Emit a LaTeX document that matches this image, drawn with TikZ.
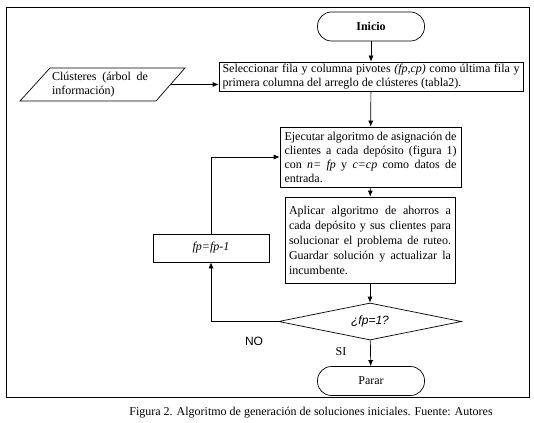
\documentclass[tikz,border=0pt]{standalone}
\usepackage{fontspec}
\setmainfont{Liberation Serif}
\newfontfamily\arialfont{Liberation Sans}
\usetikzlibrary{arrows.meta,shapes.geometric}
\setlength{\parindent}{0pt}

\tikzset{
  >={Latex[length=6pt,width=5pt]},
  flowline/.style={line width=0.7pt},
  terminal/.style={draw, line width=0.7pt, rounded corners=14pt, minimum width=107pt, minimum height=29pt, inner sep=0pt},
  process/.style={draw, line width=0.7pt, align=justify, inner xsep=4pt, inner ysep=1pt, font=\fontsize{12}{14}\selectfont},
  decision/.style={draw, diamond, aspect=5, inner sep=0pt, line width=0.7pt, minimum width=183pt, minimum height=37pt, font=\arialfont\itshape\fontsize{12}{14}\selectfont}
}

\begin{document}
\begin{tikzpicture}[x=1pt,y=-1pt]
        \useasboundingbox (0,0) rectangle (534,422);
        \draw [flowline]  (6,7) rectangle (529,397);

        \node [terminal, font=\fontsize{12}{14}\selectfont\bfseries] (inicio) at (371,26.5) {Inicio};
        \node [process, text width=297pt, inner xsep=3.5pt, minimum height=29pt] (sel) at (371,76.5)
              {Seleccionar fila y columna pivotes \textit{(fp,cp)} como última fila y\linebreak primera columna del arreglo de clústeres (tabla2).};

        \draw [flowline]  (20,101) -- (50,68) -- (185,68) -- (156,101) -- cycle;
        \node [process, draw=none, text width=96pt, inner sep=0pt] (clus) at (100,84.5)
              {Clústeres (árbol de\linebreak información)};
        \coordinate (clusR) at (170.5,84.5);

        \node [process, text width=172pt, inner xsep=4.5pt, minimum height=60pt] (exec) at (370.5,157)
              {Ejecutar algoritmo de asignación de\linebreak clientes a cada depósito (figura 1)\linebreak con \textit{n= fp} y \textit{c=cp} como datos de\linebreak entrada.};
        \node [process, text width=162pt, minimum height=86pt, font=\fontsize{12}{15}\selectfont] (apply) at (370,240)
              {Aplicar algoritmo de ahorros a\linebreak cada depósito y sus clientes para\linebreak solucionar el problema de ruteo.\linebreak Guardar solución y actualizar la\linebreak incumbente.};
        \node [decision] (dec) at (370,321.5) {¿fp=1?};
        \node [process, align=center, minimum width=116pt, minimum height=28pt] (fp) at (211,248) {\textit{fp=fp-1}};
        \node [terminal, font=\fontsize{12}{14}\selectfont] (parar) at (371,381) {Parar};

        \draw [flowline, ->]  (inicio) -- (sel);
        \draw [flowline, ->]  (clusR) -- (clusR -| sel.west);
        \draw [flowline, ->]  (sel) -- (exec);
        \draw [flowline, ->]  (exec) -- (apply);
        \draw [flowline, ->]  (apply) -- (dec);
        \draw [flowline, ->]  (dec) -- (parar);
        \draw [flowline, ->]  (dec.west) -| (fp.south);
        \draw [flowline, ->]  (fp.north) |- (exec.west);

        \node [font=\arialfont\fontsize{12}{14}\selectfont] (no) at (254,341) {NO};
        \node [font=\fontsize{12}{14}\selectfont] (si) at (341,352) {SI};

        \node [font=\fontsize{12}{14}\selectfont] (caption) at (311,413)
              {Figura 2. Algoritmo de generación de soluciones iniciales. Fuente: Autores};
      \end{tikzpicture}
\end{document}
